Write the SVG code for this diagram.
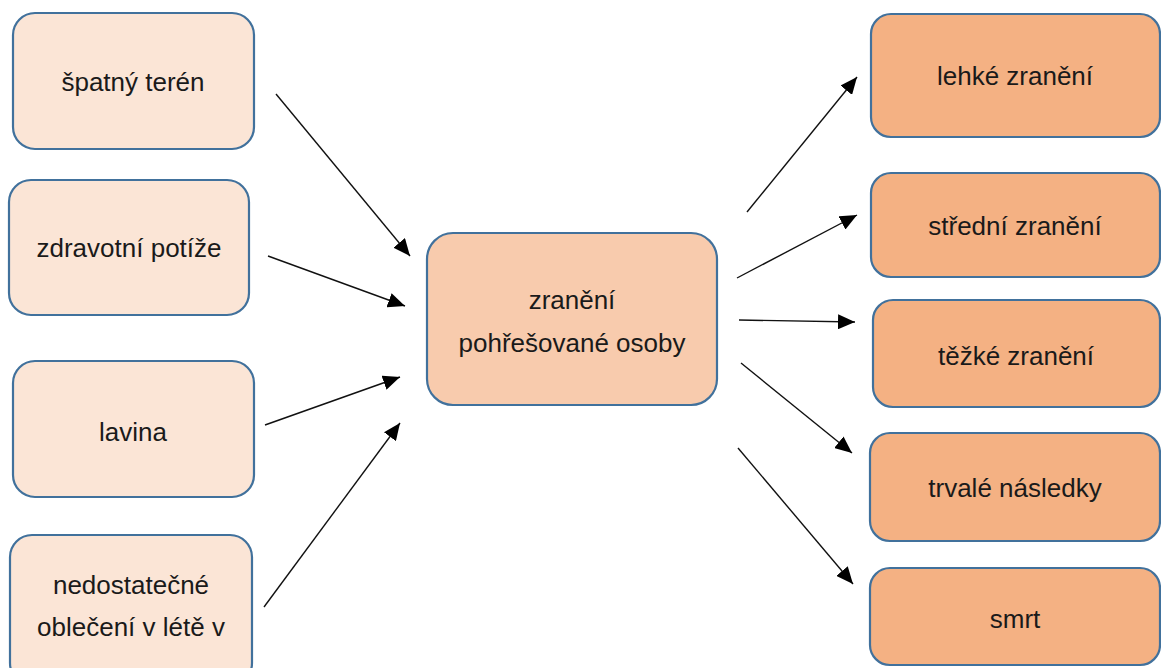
<svg xmlns="http://www.w3.org/2000/svg" width="1161" height="668" viewBox="0 0 1161 668">
<style>
.box{stroke:#41719C;stroke-width:2.2}
.l{fill:#FBE5D6}
.c{fill:#F8CBAD}
.r{fill:#F4B183}
text{font-family:"Liberation Sans",Arial,sans-serif;font-size:26px;fill:#1a1a1a;text-anchor:middle}
.conn line{stroke:#111;stroke-width:1.4;marker-end:url(#ah)}
</style>
<defs>
<marker id="ah" markerUnits="userSpaceOnUse" markerWidth="19" markerHeight="15" refX="17" refY="7.5" orient="auto">
<path d="M0,0 L17,7.5 L0,15 Z" fill="#000"/>
</marker>
</defs>
<rect width="1161" height="668" fill="#fff"/>
<g id="n1"><rect class="box l" x="13" y="13" width="241" height="136" rx="22"/><text x="133" y="91">špatný terén</text></g>
<g id="n2"><rect class="box l" x="9" y="180" width="240" height="135" rx="22"/><text x="129" y="257">zdravotní potíže</text></g>
<g id="n3"><rect class="box l" x="13" y="361" width="241" height="136" rx="22"/><text x="133" y="441">lavina</text></g>
<g id="n4"><rect class="box l" x="10" y="535" width="242" height="150" rx="22"/><text x="131" y="594">nedostatečné</text><text x="131" y="636">oblečení v létě v</text></g>
<g id="c"><rect class="box c" x="427" y="233" width="290" height="172" rx="26"/><text x="572" y="309">zranění</text><text x="572" y="352">pohřešované osoby</text></g>
<g id="o1"><rect class="box r" x="871" y="14" width="289" height="123" rx="20"/><text x="1015" y="85">lehké zranění</text></g>
<g id="o2"><rect class="box r" x="871" y="173" width="289" height="104" rx="20"/><text x="1015" y="235">střední zranění</text></g>
<g id="o3"><rect class="box r" x="873" y="300" width="287" height="107" rx="20"/><text x="1016" y="365">těžké zranění</text></g>
<g id="o4"><rect class="box r" x="870" y="433" width="290" height="108" rx="20"/><text x="1015" y="497">trvalé následky</text></g>
<g id="o5"><rect class="box r" x="870" y="568" width="290" height="97" rx="20"/><text x="1015" y="628">smrt</text></g>
<g class="conn" id="connectors">
<line x1="276" y1="94" x2="410" y2="256"/>
<line x1="268" y1="256" x2="405" y2="306"/>
<line x1="265" y1="425" x2="400" y2="377"/>
<line x1="264" y1="607" x2="400" y2="423"/>
<line x1="747" y1="212" x2="857" y2="77"/>
<line x1="737" y1="278" x2="857" y2="215"/>
<line x1="739" y1="320" x2="855" y2="322"/>
<line x1="741" y1="363" x2="852" y2="453"/>
<line x1="738" y1="448" x2="853" y2="584"/>
</g>
</svg>
